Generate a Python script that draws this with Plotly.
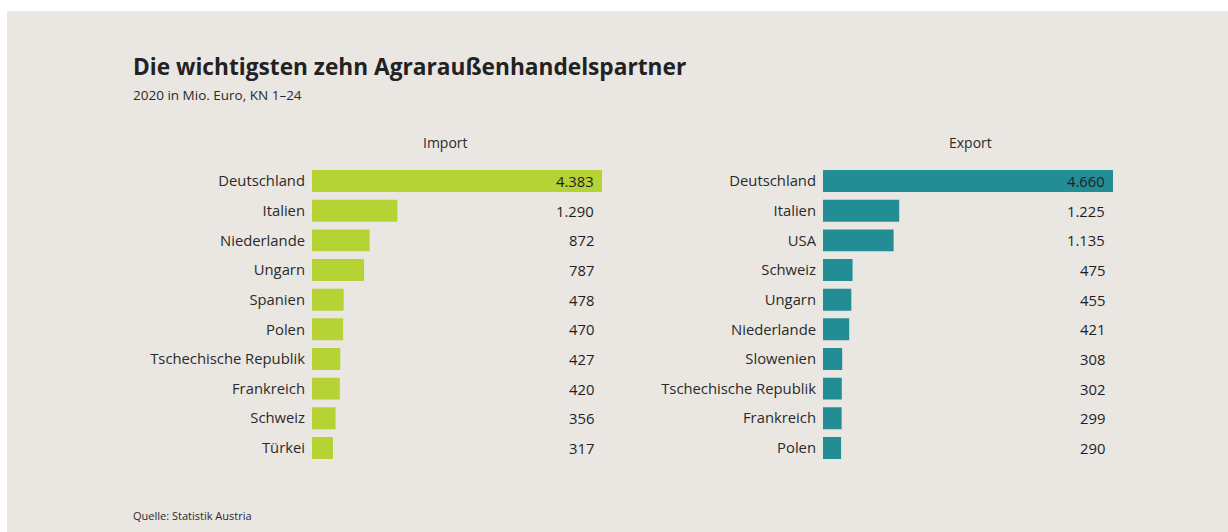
import plotly.graph_objects as go

W, H = 1228, 532

import_countries = ["Deutschland", "Italien", "Niederlande", "Ungarn", "Spanien", "Polen",
                    "Tschechische Republik", "Frankreich", "Schweiz", "Türkei"]
import_values = [4383, 1290, 872, 787, 478, 470, 427, 420, 356, 317]

export_countries = ["Deutschland", "Italien", "USA", "Schweiz", "Ungarn", "Niederlande",
                    "Slowenien", "Tschechische Republik", "Frankreich", "Polen"]
export_values = [4660, 1225, 1135, 475, 455, 421, 308, 302, 299, 290]

title = "Die wichtigsten zehn Agraraußenhandelspartner"
subtitle = "2020 in Mio. Euro, KN 1–24"
source = "Quelle: Statistik Austria"
panel_titles = ["Import", "Export"]

GREEN = "#B5D334"
TEAL = "#238D96"
BG = "#EAE6E2"
TXT = "#2A2A2A"
FONT = "Open Sans"


def px(x):
    return x / W


def py(y):
    return 1 - y / H


def fmt(v):
    return f"{v:,}".replace(",", ".")


fig = go.Figure()

fig.add_trace(go.Bar(x=import_values, y=import_countries, orientation="h",
                     marker=dict(color=GREEN, line=dict(width=0)), width=0.74,
                     xaxis="x", yaxis="y", hoverinfo="x+y"))
fig.add_trace(go.Bar(x=export_values, y=export_countries, orientation="h",
                     marker=dict(color=TEAL, line=dict(width=0)), width=0.74,
                     xaxis="x2", yaxis="y2", hoverinfo="x+y"))

y_dom = [py(462.8), py(166.2)]
axis_common = dict(showgrid=False, zeroline=False, showline=False, showticklabels=False, fixedrange=True)
yaxis_common = dict(showgrid=False, zeroline=False, showline=False, ticks="", type="category",
                    range=[9.5, -0.5], domain=y_dom, ticklabelstandoff=6,
                    tickfont=dict(family=FONT, size=14.8, color=TXT), fixedrange=True)

annotations = []
for vals, cats, xref, yref in [(import_values, import_countries, "x domain", "y"),
                               (export_values, export_countries, "x2 domain", "y2")]:
    for v, c in zip(vals, cats):
        annotations.append(dict(x=1, y=c, xref=xref, yref=yref, text=fmt(v), showarrow=False,
                                xanchor="right", yanchor="middle", xshift=-6,
                                font=dict(family=FONT, size=14.8, color="#1E1E1E")))

for t, cx in zip(panel_titles, [445, 970]):
    annotations.append(dict(x=px(cx), y=py(142), xref="paper", yref="paper", text=t, showarrow=False,
                            xanchor="center", yanchor="middle",
                            font=dict(family=FONT, size=14, color=TXT)))

annotations.append(dict(x=px(131), y=py(66), xref="paper", yref="paper", text=f"<b>{title}</b>",
                        showarrow=False, xanchor="left", yanchor="middle",
                        font=dict(family=FONT, size=22.7, color="#222222")))
annotations.append(dict(x=px(131), y=py(95), xref="paper", yref="paper", text=subtitle,
                        showarrow=False, xanchor="left", yanchor="middle",
                        font=dict(family=FONT, size=13.5, color=TXT)))
annotations.append(dict(x=px(131), y=py(515), xref="paper", yref="paper", text=source,
                        showarrow=False, xanchor="left", yanchor="middle",
                        font=dict(family=FONT, size=11, color=TXT)))

fig.update_layout(
    width=W, height=H,
    margin=dict(l=0, r=0, t=0, b=0),
    paper_bgcolor="white", plot_bgcolor="rgba(0,0,0,0)",
    showlegend=False, bargap=0.26,
    xaxis=dict(domain=[px(312), px(602)], range=[0, max(import_values)], **axis_common),
    xaxis2=dict(domain=[px(823), px(1113)], range=[0, max(export_values)], **axis_common),
    yaxis=dict(anchor="x", **yaxis_common),
    yaxis2=dict(anchor="x2", **yaxis_common),
    annotations=annotations,
    shapes=[dict(type="rect", xref="paper", yref="paper", x0=px(7), x1=1, y0=0, y1=py(11),
                 fillcolor=BG, line=dict(width=0), layer="below")],
)

fig.write_html("out.html", config={"displayModeBar": False},
               post_script="document.body.style.margin='0';document.body.style.overflow='hidden';")
